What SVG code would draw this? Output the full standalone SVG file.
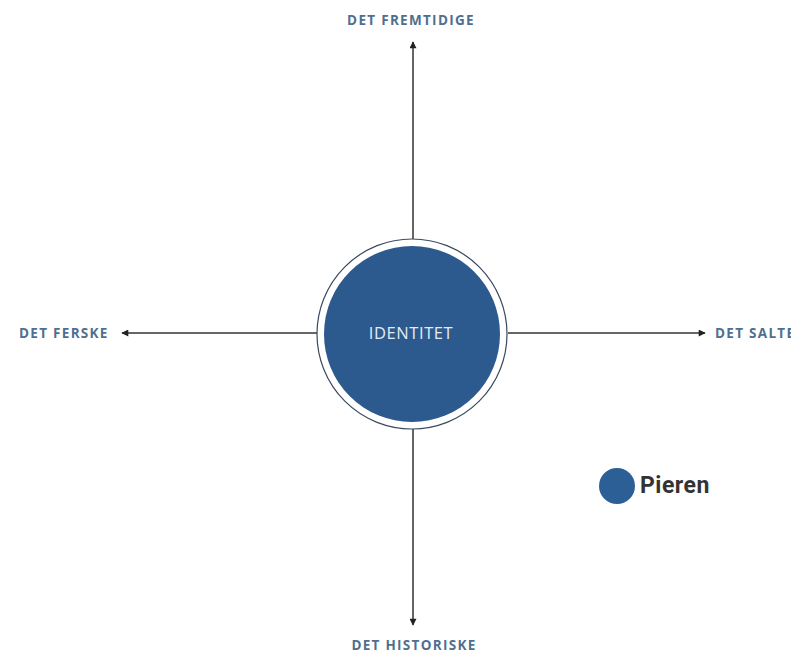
<svg xmlns="http://www.w3.org/2000/svg" width="791" height="653" viewBox="0 0 791 653">
<style>
.lbl{font-family:"Open Sans","Liberation Sans",sans-serif;font-weight:700;font-size:13.5px;fill:#4f6f8f;letter-spacing:1.3px}
.ax{stroke:#333;stroke-width:1.5;fill:none}
</style>
<defs>
<marker id="ah" viewBox="0 0 10 10" refX="9" refY="5" markerWidth="8" markerHeight="7" markerUnits="userSpaceOnUse" orient="auto"><path d="M0,0 L10,5 L0,10 z" fill="#222"/></marker>
</defs>
<rect width="791" height="653" fill="#ffffff"/>
<g id="connectors">
<line class="ax" x1="413" y1="240" x2="413" y2="42" marker-end="url(#ah)"/>
<line class="ax" x1="413" y1="428" x2="413" y2="625" marker-end="url(#ah)"/>
<line class="ax" x1="318" y1="333" x2="122" y2="333" marker-end="url(#ah)"/>
<line class="ax" x1="508" y1="333" x2="705" y2="333" marker-end="url(#ah)"/>
</g>
<g id="identitet">
<circle cx="412" cy="334" r="95" fill="#ffffff" stroke="#3a4a5e" stroke-width="1.2"/>
<circle cx="412" cy="334" r="88" fill="#2c5a8e"/>
<text x="411" y="339" text-anchor="middle" font-family="Open Sans, Liberation Sans, sans-serif" font-size="16.5" letter-spacing="0.6" fill="#e4ebf3">IDENTITET</text>
</g>
<g id="det-fremtidige"><text class="lbl" x="411" y="25" text-anchor="middle">DET FREMTIDIGE</text></g>
<g id="det-ferske"><text class="lbl" x="19" y="338">DET FERSKE</text></g>
<g id="det-salte"><text class="lbl" x="715" y="338">DET SALTE</text></g>
<g id="det-historiske"><text class="lbl" x="414" y="650" text-anchor="middle">DET HISTORISKE</text></g>
<g id="pieren">
<circle cx="617" cy="486" r="18" fill="#2c5f96"/>
<text x="640" y="493" font-family="Roboto, Liberation Sans, sans-serif" font-weight="700" font-size="23" letter-spacing="0.5" fill="#333333">Pieren</text>
</g>
</svg>
